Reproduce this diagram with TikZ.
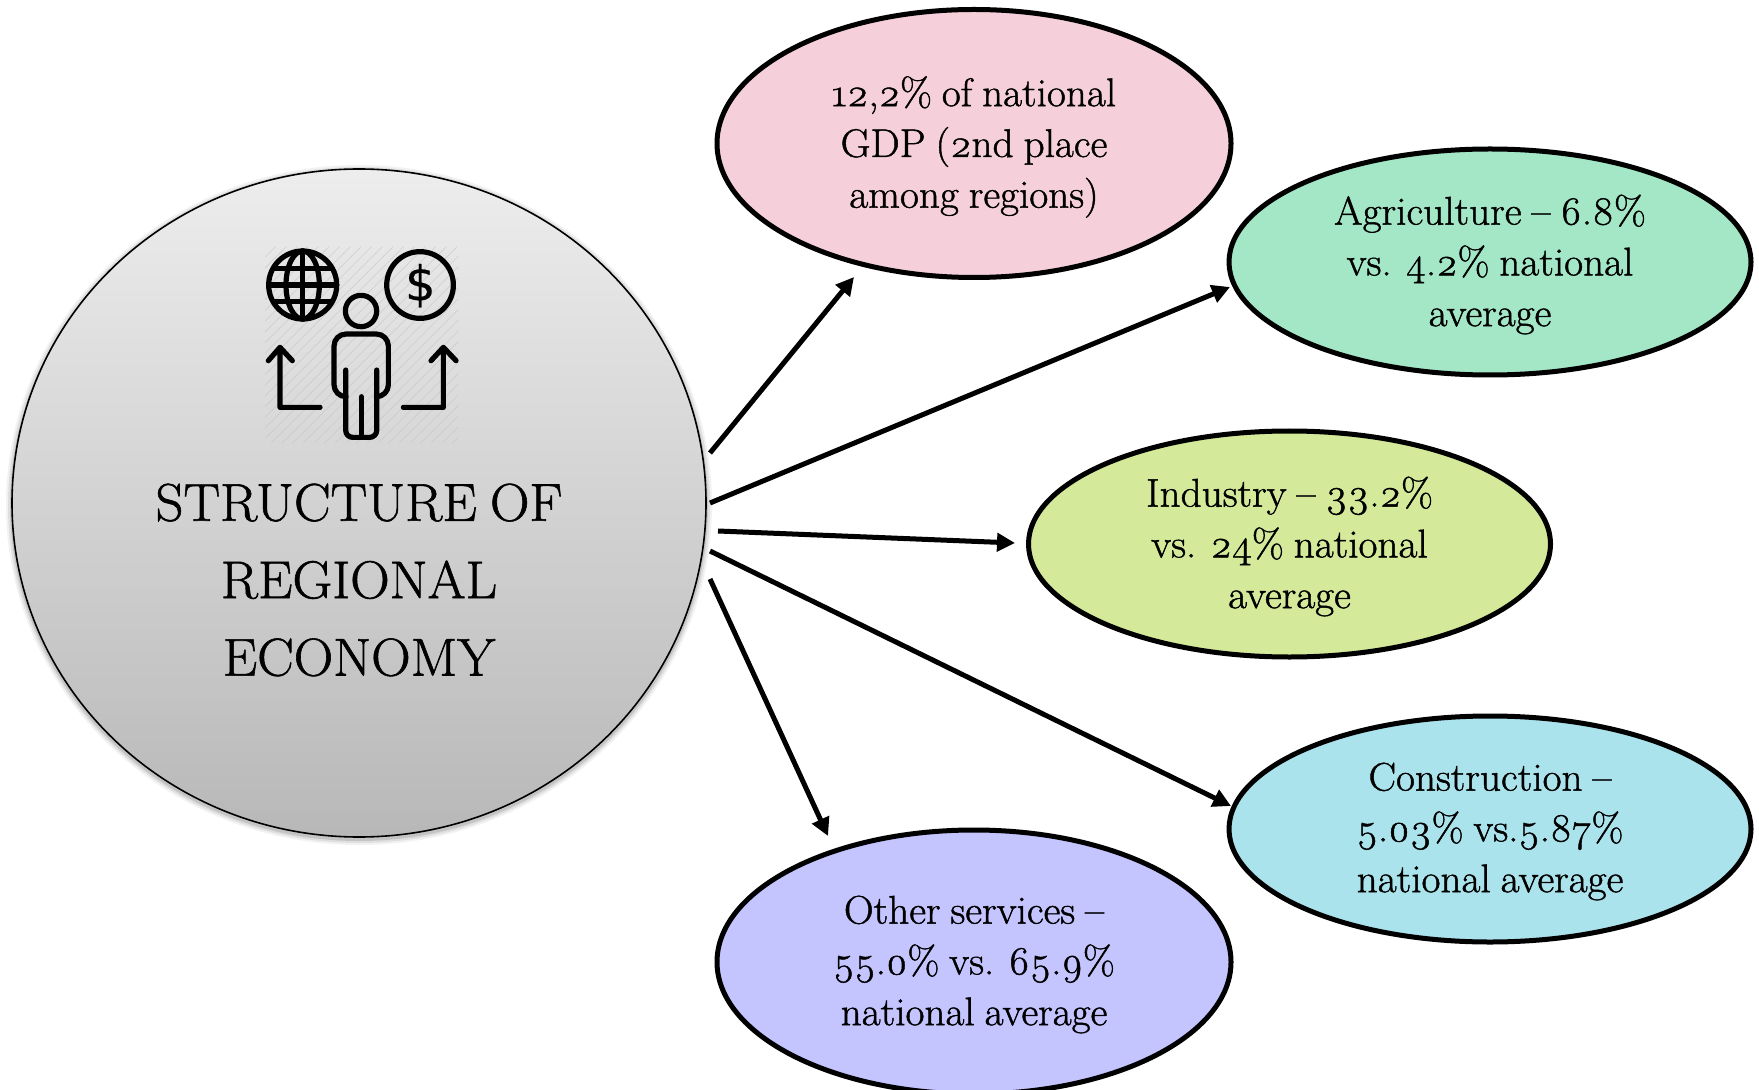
\documentclass[tikz,border=0pt]{standalone}
\usepackage{fontspec}
\setmainfont{Latin Modern Roman}[Numbers=OldStyle,FakeStretch=1.03,FakeBold=1.1,WordSpace=0.8]
\newfontfamily\dollarfont{DejaVu Sans}[FakeBold=0.4]
\usetikzlibrary{shapes.geometric,arrows.meta}
\definecolor{pinkfill}{HTML}{F5D0DA}
\definecolor{greenfill}{HTML}{A3E7C7}
\definecolor{limefill}{HTML}{D4E999}
\definecolor{cyanfill}{HTML}{ABE3EC}
\definecolor{purplefill}{HTML}{C4C4FF}
\tikzset{
  x=0.5pt,y=-0.5pt,
  oval/.style={ellipse,draw=black,line width=2.5pt,inner sep=0pt},
  bigoval/.style={oval,minimum width=514pt*0.5,minimum height=268pt*0.5},
  midoval/.style={oval,minimum width=522pt*0.5,minimum height=226pt*0.5},
  ovaltext/.style={inner sep=0pt,align=center,font=\fontsize{20}{25.4}\selectfont},
  link/.style={line width=2.5pt,-{Triangle[length=9pt,width=9pt]}},
  iconline/.style={line width=2.6pt,line cap=round,line join=round},
}
\begin{document}
\begin{tikzpicture}
\useasboundingbox (0,0) rectangle (1759,1090);
\clip (0,0) rectangle (1759,1090);
% soft halo of the main disc
\foreach \d/\o in {6/.05,4/.08,2/.12}{
  \fill[black,opacity=\o] (359,505) ellipse [x radius=347+\d, y radius=334+\d];
}
\node[ellipse,draw=black,line width=0.8pt,top color=black!7,bottom color=black!28,
  minimum width=347pt,minimum height=334pt,inner sep=0pt] (main) at (359,503) {};
% icon
\begin{scope}[shift={(240,230)},x=0.1667pt,y=-0.1667pt]
  \begin{scope}
    \clip (75,50) rectangle (655,640);
    \foreach \k in {0,32,...,1180}{
      \draw[black!25,opacity=.45,line width=.4pt] (75+\k-590,640) -- (75+\k,50);
    }
  \end{scope}
  \draw[iconline] (188,165) circle [radius=102];
  \draw[iconline] (188,165) ellipse [x radius=50,y radius=102];
  \draw[iconline] (188,63) -- (188,267);
  \draw[iconline] (100,115) -- (276,115) (86,165) -- (290,165) (100,215) -- (276,215);
  \draw[iconline] (540,165) circle [radius=100];
  \node[inner sep=0pt,font=\dollarfont\fontsize{24}{24}\selectfont] (dollar) at (541,167) {\$};
  \draw[iconline] (363,243) circle [radius=47];
  \draw[iconline,rounded corners=3.5pt] (317,420) -- (317,622) -- (410,622) -- (410,420);
  \draw[iconline,rounded corners=6pt] (317,500) -- (282,500) -- (282,312) -- (445,312) -- (445,500) -- (410,500);
  \draw[iconline] (364,500) -- (364,622);
  \draw[iconline] (240,532) -- (120,532) -- (120,352) (85,392) -- (120,352) -- (157,392);
  \draw[iconline] (490,532) -- (610,532) -- (610,352) (573,392) -- (610,352) -- (648,392);
\end{scope}
\node[inner sep=0pt,align=center,font=\fontsize{26.6}{38.7}\selectfont] (title) at (359,580) {STRUCTURE OF\\REGIONAL\\ECONOMY};
% ovals
\node[bigoval,fill=pinkfill] (gdp) at (974,143.5) {};
\node[ovaltext] (gdpt) at (974,147) {12,2\% of national\\GDP (2nd place\\among regions)};
\node[midoval,fill=greenfill] (agri) at (1490,262) {};
\node[ovaltext] (agrit) at (1490,264.5) {Agriculture -- 6.8\%\\vs. 4.2\% national\\average};
\node[midoval,fill=limefill] (ind) at (1289.5,544) {};
\node[ovaltext] (indt) at (1289.5,546.5) {Industry -- 33.2\%\\vs. 24\% national\\average};
\node[midoval,fill=cyanfill] (con) at (1490,829) {};
\node[ovaltext] (cont) at (1490,831.5) {Construction --\\5.03\% vs.5.87\%\\national average};
\node[bigoval,fill=purplefill,minimum height=132pt] (oth) at (974,962) {};
\node[ovaltext] (otht) at (974,964.5) {Other services --\\55.0\% vs. 65.9\%\\national average};
% connectors
\coordinate (s1) at (710,453); \coordinate (e1) at (854,277);
\coordinate (s2) at (710,503); \coordinate (e2) at (1230,287);
\coordinate (s3) at (718,531); \coordinate (e3) at (1015,543);
\coordinate (s4) at (710,551); \coordinate (e4) at (1231,806);
\coordinate (s5) at (710,579); \coordinate (e5) at (828,836);
\draw[link] (s1) -- (e1);
\draw[link] (s2) -- (e2);
\draw[link] (s3) -- (e3);
\draw[link] (s4) -- (e4);
\draw[link] (s5) -- (e5);
\end{tikzpicture}
\end{document}
